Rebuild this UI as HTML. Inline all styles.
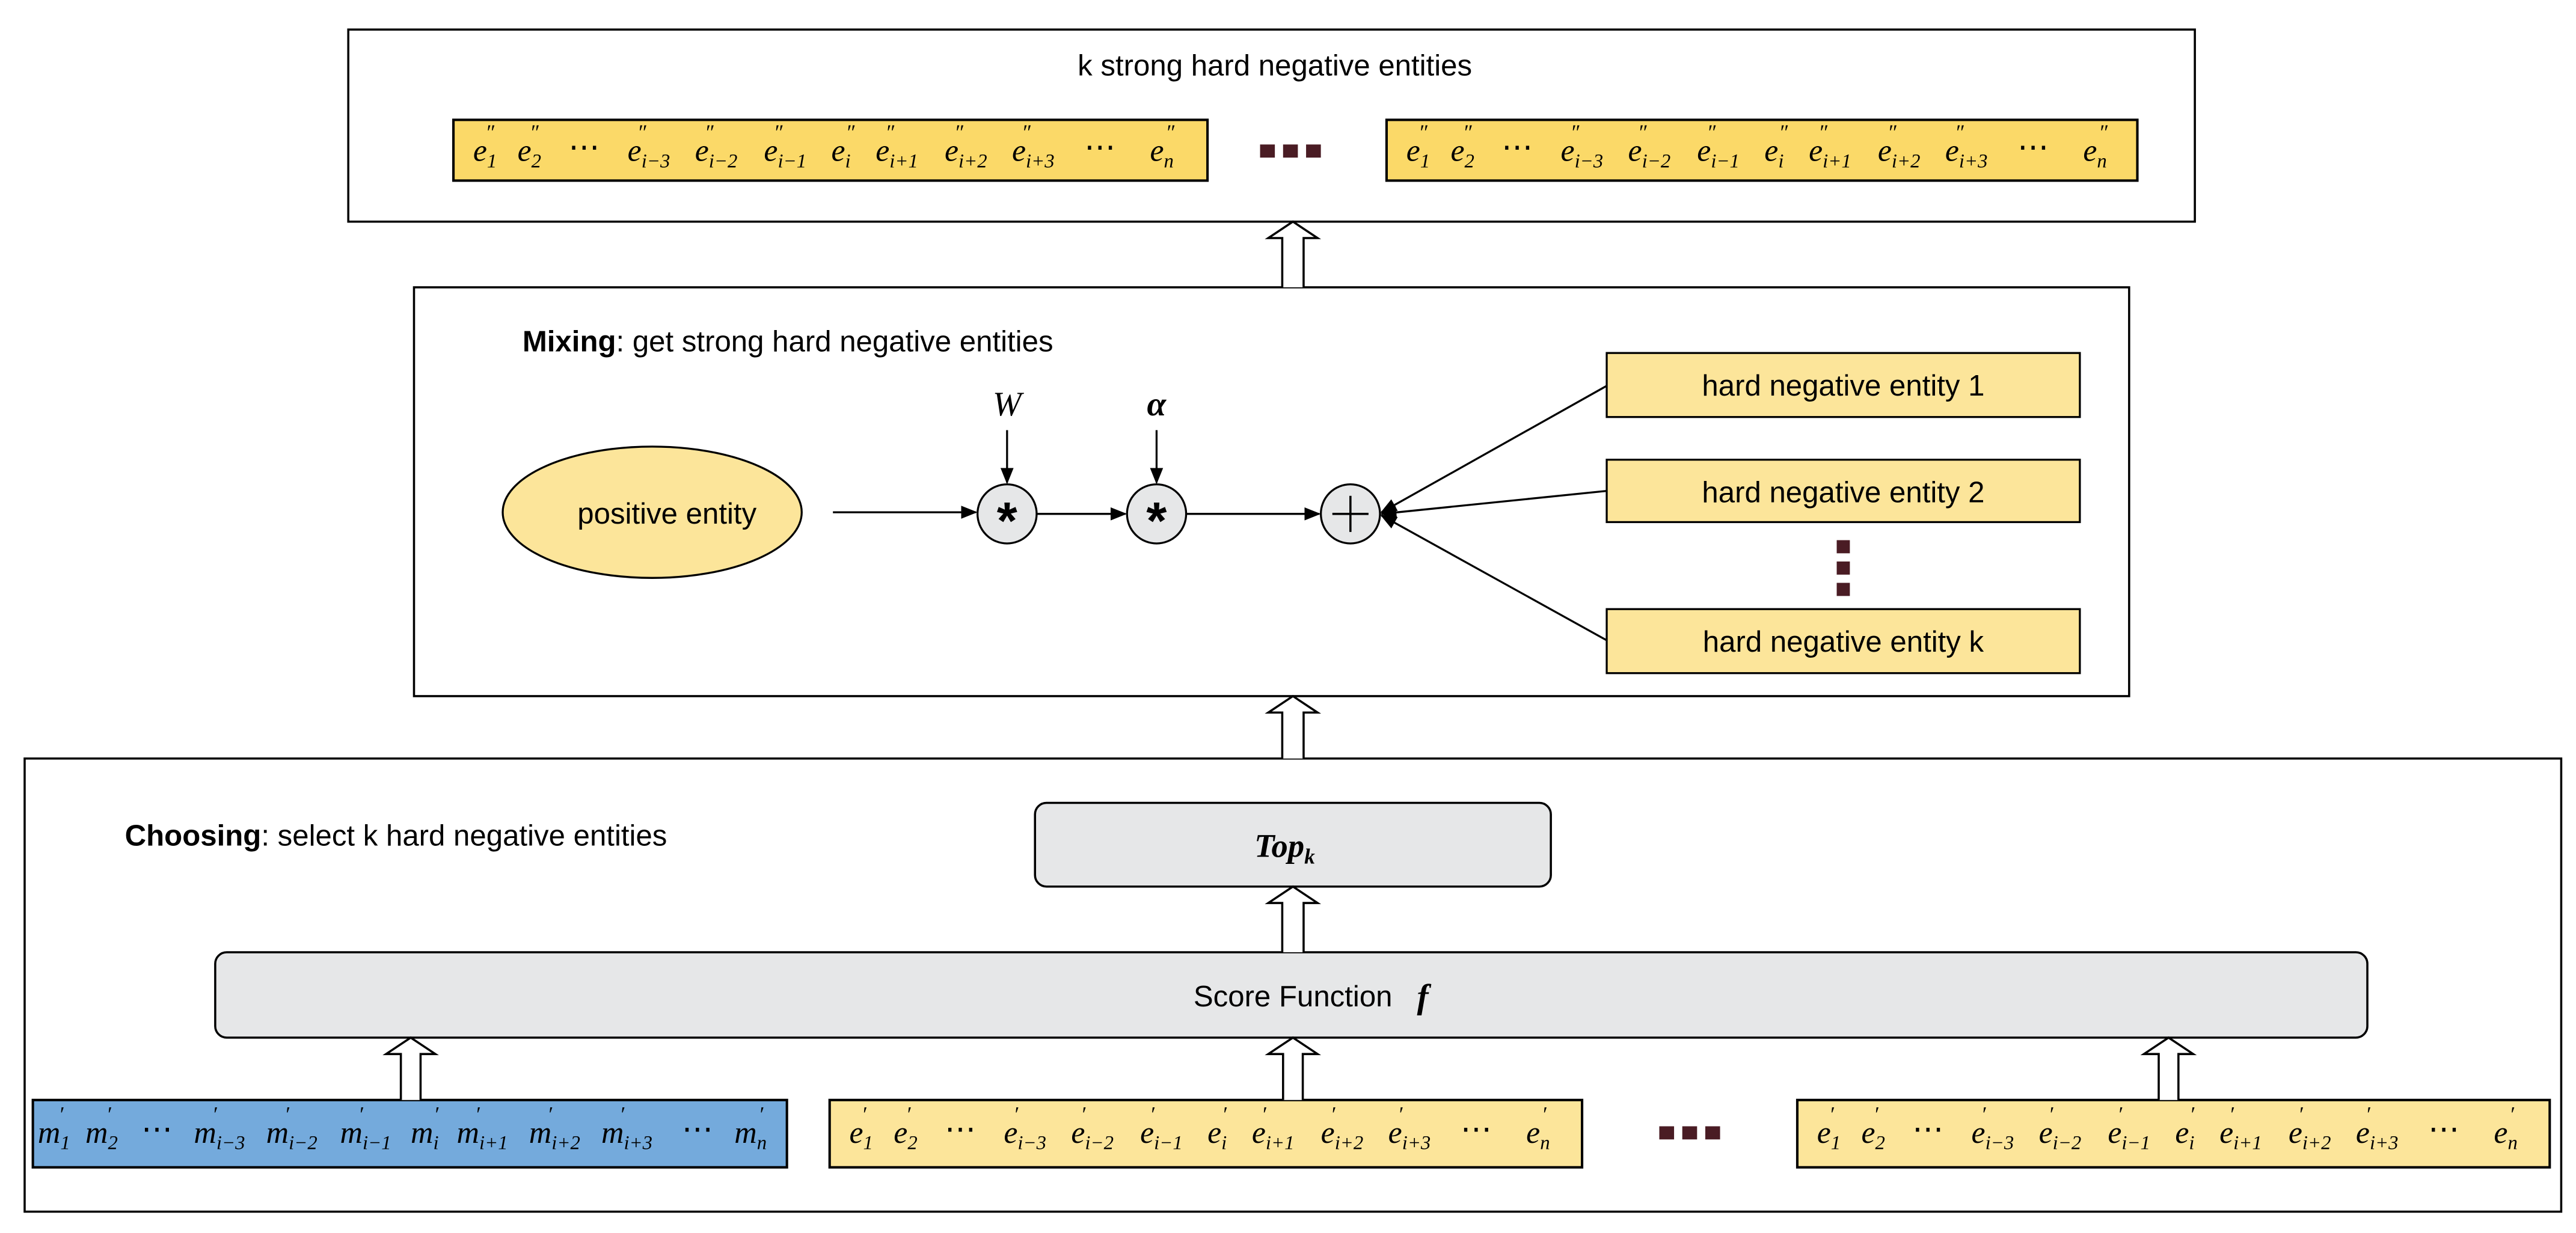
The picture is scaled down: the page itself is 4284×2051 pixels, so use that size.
<!DOCTYPE html>
<html><head><meta charset="utf-8"><style>
html,body{margin:0;padding:0;background:#fff;}
svg{display:block;}
.t{font-family:"Liberation Sans",sans-serif;}
.m{font-family:"Liberation Serif",serif;font-style:italic;}
</style></head><body>
<svg width="4284" height="2051" viewBox="0 0 1568 751" preserveAspectRatio="none" xmlns="http://www.w3.org/2000/svg">
<defs>
<marker id="ah" markerWidth="10" markerHeight="8" refX="9" refY="4" orient="auto" markerUnits="userSpaceOnUse">
<path d="M0,0 L10,4 L0,8 Z" fill="#000"/></marker>
</defs>
<rect x="212" y="18" width="1124" height="117" fill="#fff" stroke="#000" stroke-width="1.3"/>
<text x="776" y="46" class="t" font-size="18" text-anchor="middle">k strong hard negative entities</text>
<rect x="276" y="73" width="459" height="37" fill="#fbd968" stroke="#000" stroke-width="1.5"/>
<rect x="844" y="73" width="457" height="37" fill="#fbd968" stroke="#000" stroke-width="1.5"/>
<g fill="#4a1c24"><rect x="767" y="88" width="9" height="8"/><rect x="781" y="88" width="9" height="8"/><rect x="795" y="88" width="9" height="8"/></g>

<rect x="252" y="175" width="1044" height="249" fill="#fff" stroke="#000" stroke-width="1.3"/>
<text x="318" y="214" class="t" font-size="18"><tspan font-weight="bold">Mixing</tspan>: get strong hard negative entities</text>
<ellipse cx="397" cy="312" rx="91" ry="40" fill="#fce59a" stroke="#000" stroke-width="1.2"/>
<text x="406" y="319" class="t" font-size="18" text-anchor="middle">positive entity</text>
<line x1="507" y1="312" x2="594" y2="312" stroke="#000" stroke-width="1.2" marker-end="url(#ah)"/>
<circle cx="613" cy="313" r="18" fill="#e6e7e8" stroke="#000" stroke-width="1.2"/>
<text x="613" y="328" font-family="Liberation Sans,sans-serif" font-size="32" font-weight="bold" text-anchor="middle">*</text>
<text x="613" y="253" class="m" font-size="21" text-anchor="middle">W</text>
<line x1="613" y1="262" x2="613" y2="294" stroke="#000" stroke-width="1.2" marker-end="url(#ah)"/>
<line x1="631" y1="313" x2="685" y2="313" stroke="#000" stroke-width="1.2" marker-end="url(#ah)"/>
<circle cx="704" cy="313" r="18" fill="#e6e7e8" stroke="#000" stroke-width="1.2"/>
<text x="704" y="328" font-family="Liberation Sans,sans-serif" font-size="32" font-weight="bold" text-anchor="middle">*</text>
<text x="704" y="253" class="m" font-size="21" font-weight="bold" text-anchor="middle">α</text>
<line x1="704" y1="262" x2="704" y2="294" stroke="#000" stroke-width="1.2" marker-end="url(#ah)"/>
<line x1="722" y1="313" x2="803" y2="313" stroke="#000" stroke-width="1.2" marker-end="url(#ah)"/>
<circle cx="822" cy="313" r="18" fill="#e6e7e8" stroke="#000" stroke-width="1.2"/>
<line x1="811" y1="313" x2="833" y2="313" stroke="#000" stroke-width="1.3"/>
<line x1="822" y1="302" x2="822" y2="324" stroke="#000" stroke-width="1.3"/>
<rect x="978" y="215" width="288" height="39" fill="#fce59a" stroke="#000" stroke-width="1.2"/>
<rect x="978" y="280" width="288" height="38" fill="#fce59a" stroke="#000" stroke-width="1.2"/>
<rect x="978" y="371" width="288" height="39" fill="#fce59a" stroke="#000" stroke-width="1.2"/>
<text x="1122" y="241" class="t" font-size="18" text-anchor="middle">hard negative entity 1</text>
<text x="1122" y="306" class="t" font-size="18" text-anchor="middle">hard negative entity 2</text>
<text x="1122" y="397" class="t" font-size="18" text-anchor="middle">hard negative entity k</text>
<g fill="#4a1c24"><rect x="1118" y="329" width="8" height="8"/><rect x="1118" y="342" width="8" height="8"/><rect x="1118" y="355" width="8" height="8"/></g>
<line x1="978" y1="235" x2="841" y2="312" stroke="#000" stroke-width="1.2" marker-end="url(#ah)"/>
<line x1="978" y1="299" x2="841" y2="313" stroke="#000" stroke-width="1.2" marker-end="url(#ah)"/>
<line x1="978" y1="390" x2="841" y2="314" stroke="#000" stroke-width="1.2" marker-end="url(#ah)"/>

<rect x="15" y="462" width="1544" height="276" fill="#fff" stroke="#000" stroke-width="1.3"/>
<text x="76" y="515" class="t" font-size="18"><tspan font-weight="bold">Choosing</tspan>: select k hard negative entities</text>
<rect x="630" y="489" width="314" height="51" rx="7" fill="#e6e7e8" stroke="#000" stroke-width="1.3"/>
<text x="782" y="522" class="m" font-size="20" font-weight="bold" text-anchor="middle">Top<tspan font-size="13" dy="4">k</tspan></text>
<rect x="131" y="580" width="1310" height="52" rx="7" fill="#e6e7e8" stroke="#000" stroke-width="1.3"/>
<text x="787" y="613" class="t" font-size="18" text-anchor="middle">Score Function</text>
<text x="866" y="614" class="m" font-size="21" font-weight="bold" text-anchor="middle">f</text>
<rect x="20" y="670" width="459" height="41" fill="#74aadc" stroke="#000" stroke-width="1.5"/>
<rect x="505" y="670" width="458" height="41" fill="#fce59a" stroke="#000" stroke-width="1.5"/>
<rect x="1094" y="670" width="458" height="41" fill="#fce59a" stroke="#000" stroke-width="1.5"/>
<g fill="#4a1c24"><rect x="1010" y="686" width="9" height="8"/><rect x="1024" y="686" width="9" height="8"/><rect x="1038" y="686" width="9" height="8"/></g>

<g fill="#fff" stroke="#000" stroke-width="1.3">
<path d="M780.5,175 L780.5,145 L772,145 L787,135 L802,145 L793.5,145 L793.5,175"/>
<path d="M780.5,462 L780.5,434 L772,434 L787,424 L802,434 L793.5,434 L793.5,462"/>
<path d="M780.5,580 L780.5,550 L772,550 L787,540 L802,550 L793.5,550 L793.5,580"/>
<path d="M244,670 L244,642 L235,642 L250,632 L265,642 L256,642 L256,670"/>
<path d="M781,670 L781,642 L772,642 L787,632 L802,642 L793,642 L793,670"/>
<path d="M1314,670 L1314,642 L1305,642 L1320,632 L1335,642 L1326,642 L1326,670"/>
</g>

<g class="m" font-size="19">
<g id="edd">
<text y="98"><tspan x="288">e</tspan><tspan font-size="12" dy="4">1</tspan><tspan font-size="13" dx="-7" dy="-17">″</tspan></text>
<text y="98"><tspan x="315">e</tspan><tspan font-size="12" dy="4">2</tspan><tspan font-size="13" dx="-7" dy="-17">″</tspan></text>
<text y="96" x="346" font-style="normal">⋯</text>
<text y="98"><tspan x="382">e</tspan><tspan font-size="12" dy="4">i−3</tspan><tspan font-size="13" dx="-20" dy="-17">″</tspan></text>
<text y="98"><tspan x="423">e</tspan><tspan font-size="12" dy="4">i−2</tspan><tspan font-size="13" dx="-20" dy="-17">″</tspan></text>
<text y="98"><tspan x="465">e</tspan><tspan font-size="12" dy="4">i−1</tspan><tspan font-size="13" dx="-20" dy="-17">″</tspan></text>
<text y="98"><tspan x="506">e</tspan><tspan font-size="12" dy="4">i</tspan><tspan font-size="13" dx="-3" dy="-17">″</tspan></text>
<text y="98"><tspan x="533">e</tspan><tspan font-size="12" dy="4">i+1</tspan><tspan font-size="13" dx="-20" dy="-17">″</tspan></text>
<text y="98"><tspan x="575">e</tspan><tspan font-size="12" dy="4">i+2</tspan><tspan font-size="13" dx="-20" dy="-17">″</tspan></text>
<text y="98"><tspan x="616">e</tspan><tspan font-size="12" dy="4">i+3</tspan><tspan font-size="13" dx="-20" dy="-17">″</tspan></text>
<text y="96" x="660" font-style="normal">⋯</text>
<text y="98"><tspan x="700">e</tspan><tspan font-size="12" dy="4">n</tspan><tspan font-size="13" dx="-5" dy="-17">″</tspan></text>
</g>
<use href="#edd" x="568"/>
<g id="ed">
<text y="696"><tspan x="517">e</tspan><tspan font-size="12" dy="4">1</tspan><tspan font-size="13" dx="-7" dy="-17">′</tspan></text>
<text y="696"><tspan x="544">e</tspan><tspan font-size="12" dy="4">2</tspan><tspan font-size="13" dx="-7" dy="-17">′</tspan></text>
<text y="694" x="575" font-style="normal">⋯</text>
<text y="696"><tspan x="611">e</tspan><tspan font-size="12" dy="4">i−3</tspan><tspan font-size="13" dx="-20" dy="-17">′</tspan></text>
<text y="696"><tspan x="652">e</tspan><tspan font-size="12" dy="4">i−2</tspan><tspan font-size="13" dx="-20" dy="-17">′</tspan></text>
<text y="696"><tspan x="694">e</tspan><tspan font-size="12" dy="4">i−1</tspan><tspan font-size="13" dx="-20" dy="-17">′</tspan></text>
<text y="696"><tspan x="735">e</tspan><tspan font-size="12" dy="4">i</tspan><tspan font-size="13" dx="-3" dy="-17">′</tspan></text>
<text y="696"><tspan x="762">e</tspan><tspan font-size="12" dy="4">i+1</tspan><tspan font-size="13" dx="-20" dy="-17">′</tspan></text>
<text y="696"><tspan x="804">e</tspan><tspan font-size="12" dy="4">i+2</tspan><tspan font-size="13" dx="-20" dy="-17">′</tspan></text>
<text y="696"><tspan x="845">e</tspan><tspan font-size="12" dy="4">i+3</tspan><tspan font-size="13" dx="-20" dy="-17">′</tspan></text>
<text y="694" x="889" font-style="normal">⋯</text>
<text y="696"><tspan x="929">e</tspan><tspan font-size="12" dy="4">n</tspan><tspan font-size="13" dx="-5" dy="-17">′</tspan></text>
</g>
<use href="#ed" x="589"/>
<text y="696"><tspan x="23">m</tspan><tspan font-size="12" dy="4">1</tspan><tspan font-size="13" dx="-7" dy="-17">′</tspan></text>
<text y="696"><tspan x="52">m</tspan><tspan font-size="12" dy="4">2</tspan><tspan font-size="13" dx="-7" dy="-17">′</tspan></text>
<text y="694" x="86" font-style="normal">⋯</text>
<text y="696"><tspan x="118">m</tspan><tspan font-size="12" dy="4">i−3</tspan><tspan font-size="13" dx="-20" dy="-17">′</tspan></text>
<text y="696"><tspan x="162">m</tspan><tspan font-size="12" dy="4">i−2</tspan><tspan font-size="13" dx="-20" dy="-17">′</tspan></text>
<text y="696"><tspan x="207">m</tspan><tspan font-size="12" dy="4">i−1</tspan><tspan font-size="13" dx="-20" dy="-17">′</tspan></text>
<text y="696"><tspan x="250">m</tspan><tspan font-size="12" dy="4">i</tspan><tspan font-size="13" dx="-3" dy="-17">′</tspan></text>
<text y="696"><tspan x="278">m</tspan><tspan font-size="12" dy="4">i+1</tspan><tspan font-size="13" dx="-20" dy="-17">′</tspan></text>
<text y="696"><tspan x="322">m</tspan><tspan font-size="12" dy="4">i+2</tspan><tspan font-size="13" dx="-20" dy="-17">′</tspan></text>
<text y="696"><tspan x="366">m</tspan><tspan font-size="12" dy="4">i+3</tspan><tspan font-size="13" dx="-20" dy="-17">′</tspan></text>
<text y="694" x="415" font-style="normal">⋯</text>
<text y="696"><tspan x="447">m</tspan><tspan font-size="12" dy="4">n</tspan><tspan font-size="13" dx="-5" dy="-17">′</tspan></text>
</g>
</svg>
</body></html>
